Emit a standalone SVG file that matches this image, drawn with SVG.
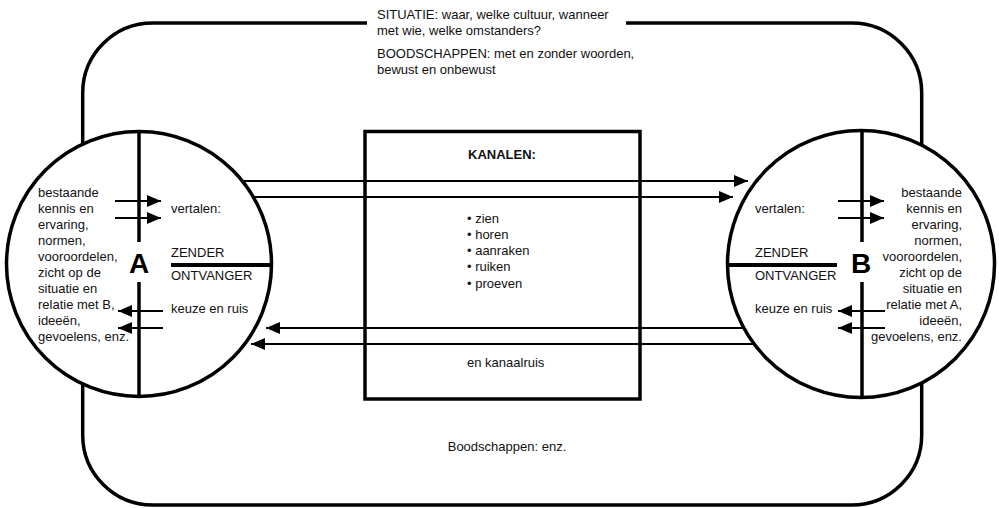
<svg xmlns="http://www.w3.org/2000/svg" width="999" height="508" viewBox="0 0 999 508">
  <defs>
    <style>
      .frame { fill: none; stroke: #000; stroke-width: 3.5; }
      .person { fill: #fff; stroke: #000; stroke-width: 3.5; }
      .axis { stroke: #000; stroke-width: 3.5; fill: none; }
      .divider { stroke: #000; stroke-width: 4; fill: none; }
      .box { fill: none; stroke: #000; stroke-width: 3.5; }
      .flow { stroke: #000; stroke-width: 2; fill: none; marker-end: url(#head); }
      text { font-family: "Liberation Sans", Arial, sans-serif; font-size: 13px; fill: #111; }
      .big { font-size: 28px; font-weight: bold; text-anchor: middle; fill: #000; }
      .bold { font-weight: bold; }
      .end { text-anchor: end; }
      .mid { text-anchor: middle; }
    </style>
    <marker id="head" viewBox="0 0 14 12" refX="14" refY="6" markerWidth="14" markerHeight="12" markerUnits="userSpaceOnUse" orient="auto">
      <path d="M0,0 L14,6 L0,12 Z" fill="#000"/>
    </marker>
  </defs>

  <!-- Situation frame: rounded outline, open at the top for the caption -->
  <g id="situatie">
    <path class="frame" d="M367,23 H152.7 A70,70 0 0 0 82.7,93 V435 A70,70 0 0 0 152.7,505 H851.7 A70,70 0 0 0 921.7,435 V93 A70,70 0 0 0 851.7,23 H626"/>
    <text x="377" y="19">SITUATIE: waar, welke cultuur, wanneer</text>
    <text x="377" y="35">met wie, welke omstanders?</text>
    <text x="377" y="58">BOODSCHAPPEN: met en zonder woorden,</text>
    <text x="377" y="74">bewust en onbewust</text>
    <text class="mid" x="507" y="451">Boodschappen: enz.</text>
  </g>

  <!-- Person A -->
  <g id="persoon-a">
    <circle class="person" cx="139" cy="264" r="132.5"/>
    <line class="axis" x1="139" y1="131.5" x2="139" y2="242"/>
    <line class="axis" x1="139" y1="282" x2="139" y2="396.5"/>
    <line class="divider" x1="171" y1="265" x2="271" y2="265"/>
    <text class="big" x="139" y="273">A</text>
    <text x="38" y="197">bestaande</text>
    <text x="38" y="213">kennis en</text>
    <text x="38" y="229">ervaring,</text>
    <text x="38" y="245">normen,</text>
    <text x="38" y="261">vooroordelen,</text>
    <text x="38" y="277">zicht op de</text>
    <text x="38" y="293">situatie en</text>
    <text x="38" y="309">relatie met B,</text>
    <text x="38" y="325">ideeën,</text>
    <text x="38" y="341">gevoelens, enz.</text>
    <text x="171" y="213">vertalen:</text>
    <text x="171" y="257">ZENDER</text>
    <text x="171" y="280">ONTVANGER</text>
    <text x="171" y="313">keuze en ruis</text>
  </g>

  <!-- Person B -->
  <g id="persoon-b">
    <circle class="person" cx="861" cy="264" r="133.5"/>
    <line class="axis" x1="862" y1="130.5" x2="862" y2="242"/>
    <line class="axis" x1="862" y1="282" x2="862" y2="397.5"/>
    <line class="divider" x1="727" y1="265" x2="837" y2="265"/>
    <text class="big" x="861" y="273">B</text>
    <text class="end" x="962" y="197">bestaande</text>
    <text class="end" x="962" y="213">kennis en</text>
    <text class="end" x="962" y="229">ervaring,</text>
    <text class="end" x="962" y="245">normen,</text>
    <text class="end" x="962" y="261">vooroordelen,</text>
    <text class="end" x="962" y="277">zicht op de</text>
    <text class="end" x="962" y="293">situatie en</text>
    <text class="end" x="962" y="309">relatie met A,</text>
    <text class="end" x="962" y="325">ideeën,</text>
    <text class="end" x="962" y="341">gevoelens, enz.</text>
    <text x="755" y="213">vertalen:</text>
    <text x="755" y="257">ZENDER</text>
    <text x="755" y="280">ONTVANGER</text>
    <text x="755" y="313">keuze en ruis</text>
  </g>

  <!-- Channels box -->
  <g id="kanalen">
    <rect class="box" x="365" y="131.5" width="275" height="267.5"/>
    <text class="bold" x="468" y="159">KANALEN:</text>
    <text x="467" y="223">• zien</text>
    <text x="467" y="239">• horen</text>
    <text x="467" y="255">• aanraken</text>
    <text x="467" y="271">• ruiken</text>
    <text x="467" y="288">• proeven</text>
    <text x="467" y="367">en kanaalruis</text>
  </g>

  <!-- Message flows -->
  <g id="connectors">
    <!-- A to B -->
    <line class="flow" x1="241.6" y1="181" x2="748" y2="181"/>
    <line class="flow" x1="252.7" y1="197" x2="733" y2="197"/>
    <!-- B to A -->
    <line class="flow" x1="744.5" y1="328" x2="266" y2="328"/>
    <line class="flow" x1="755" y1="344" x2="251" y2="344"/>
    <!-- inside A -->
    <line class="flow" x1="115" y1="201" x2="161" y2="201"/>
    <line class="flow" x1="115" y1="218" x2="161" y2="218"/>
    <line class="flow" x1="163" y1="311" x2="118" y2="311"/>
    <line class="flow" x1="163" y1="328" x2="118" y2="328"/>
    <!-- inside B -->
    <line class="flow" x1="838" y1="201" x2="884" y2="201"/>
    <line class="flow" x1="838" y1="218" x2="884" y2="218"/>
    <line class="flow" x1="885" y1="311" x2="838" y2="311"/>
    <line class="flow" x1="885" y1="328" x2="838" y2="328"/>
  </g>
</svg>
